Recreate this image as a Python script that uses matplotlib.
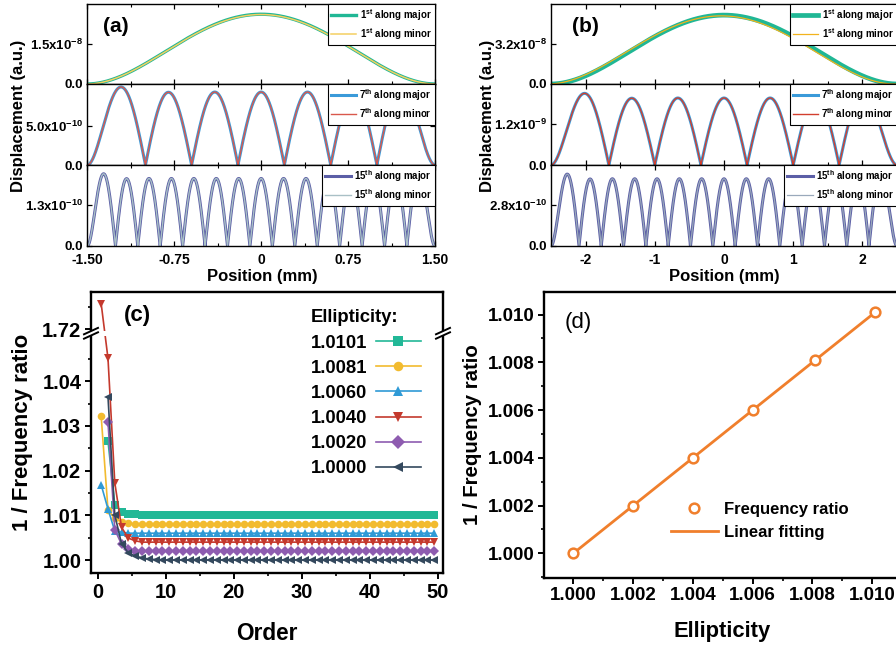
import numpy as np
import matplotlib
matplotlib.use("Agg")
import matplotlib.pyplot as plt
from matplotlib.ticker import FixedLocator
from matplotlib.patches import Rectangle

plt.rcParams['font.family'] = 'Liberation Sans'
plt.rcParams['font.weight'] = 'bold'
plt.rcParams['axes.labelweight'] = 'bold'
plt.rcParams['axes.unicode_minus'] = False
plt.rcParams['mathtext.fontset'] = 'custom'
plt.rcParams['mathtext.rm'] = 'Liberation Sans:bold'
plt.rcParams['mathtext.bf'] = 'Liberation Sans:bold'
plt.rcParams['mathtext.it'] = 'Liberation Sans:bold'
plt.rcParams['mathtext.default'] = 'bf'

# ---------------- (a), (b): mode shapes along major / minor axis ----------------
mode_names = ['1', '7', '15']
mode_sup = ['st', 'th', 'th']
# clamped-clamped roots (beta * L / 2) of the 1st, 7th and 15th modes
mode_roots = [2.3650, 11.7810, 24.3473]

half_span_a = 1.5  # mm
peaks_a_major = [2.59e-8, 9.92e-10, 2.30e-10]
peaks_a_minor = [2.58e-8, 9.92e-10, 2.30e-10]
shift_a_minor = [0.0, 0.0, 0.0]
yticks_a = [1.5e-8, 5.0e-10, 1.3e-10]
yticklabels_a = [r'1.5x10$^{-8}$', r'5.0x10$^{-10}$', r'1.3x10$^{-10}$']
ytop_a = [2.97e-8, 1.03e-9, 2.58e-10]
xticks_a = [-1.5, -0.75, 0, 0.75, 1.5]
xticklabels_a = ['-1.50', '-0.75', '0', '0.75', '1.50']

half_span_b = 2.5  # mm
peaks_b_major = [5.46e-8, 2.105e-9, 4.88e-10]
peaks_b_minor = [5.40e-8, 2.105e-9, 4.88e-10]
shift_b_minor = [-0.04, 0.0, 0.0]
yticks_b = [3.2e-8, 1.2e-9, 2.8e-10]
yticklabels_b = [r'3.2x10$^{-8}$', r'1.2x10$^{-9}$', r'2.8x10$^{-10}$']
ytop_b = [6.34e-8, 2.38e-9, 5.5e-10]
xticks_b = [-2, -1, 0, 1, 2]
xticklabels_b = ['-2', '-1', '0', '1', '2']

# ---------------- (c): 1 / frequency ratio vs. order ----------------
ellipticity_labels = ['1.0101', '1.0081', '1.0060', '1.0040', '1.0020', '1.0000']
order_pos = np.arange(50) + 0.5
series_start = [1, 0, 0, 0, 1, 1]
inv_ratio_10101 = [1.0266, 1.0123, 1.0108, 1.0104, 1.0102] + [1.0101] * 44
inv_ratio_10081 = [1.0321, 1.0112, 1.0093, 1.0085, 1.0082] + [1.0081] * 45
inv_ratio_10060 = [1.0168, 1.0114, 1.0065, 1.0062] + [1.0060] * 46
inv_ratio_10040 = [1.7257, 1.0451, 1.0173, 1.0073, 1.0049, 1.0043] + [1.0040] * 44
inv_ratio_10020 = [1.0309, 1.0068, 1.0035, 1.0024, 1.0021] + [1.0020] * 44
inv_ratio_10000 = [1.0365, 1.0101, 1.0036, 1.0016, 1.0009, 1.0005, 1.0002, 1.0001] + [1.0000] * 41
series_c = [inv_ratio_10101, inv_ratio_10081, inv_ratio_10060,
            inv_ratio_10040, inv_ratio_10020, inv_ratio_10000]
colors_c = ['#22b897', '#f2bb2f', '#2f9ad6', '#c4392d', '#8e5cb0', '#34495e']
markers_c = ['s', 'o', '^', 'v', 'D', '<']

# broken y axis: 1.0507 .. 1.7191 is cut out
y_cut_low, y_cut_high = 1.0507, 1.7191

# ---------------- (d): linear dependence on ellipticity ----------------
ellipticity = [1.0000, 1.0020, 1.0040, 1.0060, 1.0081, 1.0101]
inv_ratio_order1 = [1.0000, 1.0020, 1.0040, 1.0060, 1.0081, 1.0101]
orange = '#f07f2c'

W, H = 896, 650
fig = plt.figure(figsize=(W / 100, H / 100), dpi=100)


def add_axes_px(left, top, right, bottom):
    return fig.add_axes([left / W, 1 - bottom / H, (right - left) / W, (bottom - top) / H])


def mode_shape(x, half, root, peak, shift=0.0):
    u = (x - shift) / half * root
    phi = np.abs(np.cos(u) / np.cos(root) - np.cosh(u) / np.cosh(root))
    return peak * phi / phi.max()


row_edges = [4, 84, 165, 246]


def draw_modes(left, right, half, peaks_major, peaks_minor, shifts, yticks, ylabels,
               ytops, xticks, xlabels, minor_step, styles):
    x = np.linspace(-half, half, 2000)
    for i in range(3):
        ax = add_axes_px(left, row_edges[i], right, row_edges[i + 1])
        c_maj, lw_maj, c_min, lw_min = styles[i]
        lab = mode_names[i] + r'$^{' + mode_sup[i] + r'}$'
        ax.plot(x, mode_shape(x, half, mode_roots[i], peaks_major[i]),
                color=c_maj, lw=lw_maj, label=lab + ' along major')
        ax.plot(x, mode_shape(x, half, mode_roots[i], peaks_minor[i], shifts[i]),
                color=c_min, lw=lw_min, label=lab + ' along minor')
        ax.set_xlim(-half, half)
        ax.set_ylim(0, ytops[i])
        ax.set_yticks([0, yticks[i]], ['0.0', ylabels[i]])
        ax.set_xticks(xticks)
        ax.xaxis.set_minor_locator(FixedLocator(np.arange(-half, half + 1e-9, minor_step)))
        if i == 2:
            ax.set_xticklabels(xlabels)
        else:
            ax.set_xticklabels([])
        ax.tick_params(direction='in', top=True, right=True, length=3.5, width=0.9,
                       pad=3, labelsize=9.5)
        ax.tick_params(axis='x', which='minor', direction='in', top=True, length=2, width=0.8)
        ax.tick_params(axis='x', labelsize=10, pad=5)
        for s in ax.spines.values():
            s.set_linewidth(1.0)
        leg = ax.legend(loc='upper right', bbox_to_anchor=(1, 1), borderaxespad=0,
                        fontsize=7, fancybox=False, edgecolor='black', framealpha=1,
                        handlelength=2.6, handletextpad=0.35, labelspacing=0.32,
                        borderpad=0.3)
        leg.get_frame().set_linewidth(0.8)


styles_a = [('#20b795', 2.4, '#f4cf62', 1.1),
            ('#3a9ad9', 2.2, '#d9584c', 1.0),
            ('#5b5ea6', 2.2, '#a9c0c6', 1.0)]
styles_b = [('#20b795', 3.4, '#f2b31d', 0.9),
            ('#3a9ad9', 2.2, '#d23f2e', 1.0),
            ('#5b5ea6', 2.2, '#9aa9bb', 0.9)]

draw_modes(87.3, 435, half_span_a, peaks_a_major, peaks_a_minor, shift_a_minor,
           yticks_a, yticklabels_a, ytop_a, xticks_a, xticklabels_a, 0.375, styles_a)
draw_modes(551, 897, half_span_b, peaks_b_major, peaks_b_minor, shift_b_minor,
           yticks_b, yticklabels_b, ytop_b, xticks_b, xticklabels_b, 0.5, styles_b)

fig.text(19 / W, 1 - 116 / H, 'Displacement (a.u.)', rotation=90, ha='center', va='center', fontsize=12)
fig.text(487.5 / W, 1 - 116 / H, 'Displacement (a.u.)', rotation=90, ha='center', va='center', fontsize=12)
fig.text(262 / W, 1 - 276 / H, 'Position (mm)', ha='center', va='center', fontsize=12)
fig.text(724 / W, 1 - 276 / H, 'Position (mm)', ha='center', va='center', fontsize=12)
fig.text(116 / W, 1 - 26 / H, '(a)', ha='center', va='center', fontsize=15)
fig.text(585 / W, 1 - 27 / H, '(b)', ha='center', va='center', fontsize=15)

# ---------------- (c) ----------------
def fwd(y):
    y = np.asarray(y, dtype=float)
    return np.where(y <= y_cut_low, y,
                    np.where(y >= y_cut_high, y - (y_cut_high - y_cut_low), y_cut_low))


def inv(t):
    t = np.asarray(t, dtype=float)
    return np.where(t <= y_cut_low, t, t + (y_cut_high - y_cut_low))


axc = add_axes_px(91, 291.7, 443, 573)
axc.set_yscale('function', functions=(fwd, inv))
for vals, start, col, mk, lab in zip(series_c, series_start, colors_c, markers_c, ellipticity_labels):
    xs = order_pos[start:start + len(vals)]
    axc.plot(xs, vals, color=col, marker=mk, ms=5.5, mew=0, lw=1.2, label=lab)
axc.set_xlim(-1, 50.8)
axc.set_ylim(0.9971, 1.7284)
axc.set_yticks([1.00, 1.01, 1.02, 1.03, 1.04, 1.72], ['1.00', '1.01', '1.02', '1.03', '1.04', '1.72'])
axc.yaxis.set_minor_locator(FixedLocator([1.005, 1.015, 1.025, 1.035, 1.045, 1.725]))
axc.set_xticks([0, 10, 20, 30, 40, 50])
axc.xaxis.set_minor_locator(FixedLocator([5, 15, 25, 35, 45]))
axc.tick_params(direction='out', length=4, width=1.4, pad=3, labelsize=14.5, top=False, right=False)
axc.tick_params(which='minor', direction='out', length=2.5, width=1.2)
for s in axc.spines.values():
    s.set_linewidth(1.7)
# gap in the lines where the axis is cut
axc.axhspan(1.0500, 1.7196, color='white', zorder=2.2, lw=0)
# break marks on both vertical spines
yb = (fwd(y_cut_low) - fwd(0.9971)) / (fwd(1.7284) - fwd(0.9971))
dx, dy, gap = 7 / 352, 3.2 / 281, 2.2 / 281
for xs0 in (0, 1):
    axc.add_patch(Rectangle((xs0 - 0.01, yb - gap), 0.02, 2 * gap, transform=axc.transAxes,
                            facecolor='white', edgecolor='none', clip_on=False, zorder=5))
    for off in (-gap, gap):
        axc.plot([xs0 - dx, xs0 + dx], [yb + off - dy, yb + off + dy], color='black', lw=1.4,
                 transform=axc.transAxes, clip_on=False, zorder=6)
legc = axc.legend(loc='upper left', bbox_to_anchor=(311 / W, 1 - 309.5 / H),
                  bbox_transform=fig.transFigure, frameon=False, markerfirst=False,
                  fontsize=13.3, title='Ellipticity:', alignment='left',
                  title_fontproperties={'weight': 'bold', 'size': 13.3},
                  handlelength=2.45, handletextpad=0.45, labelspacing=0.44,
                  borderpad=0, borderaxespad=0, numpoints=1, markerscale=1.25)
fig.text(137 / W, 1 - 316 / H, '(c)', ha='center', va='center', fontsize=16)
fig.text(266.7 / W, 1 - 633 / H, 'Order', ha='center', va='center', fontsize=16.3)
fig.text(22.5 / W, 1 - 432.5 / H, '1 / Frequency ratio', rotation=90, ha='center', va='center', fontsize=16)

# ---------------- (d) ----------------
axd = add_axes_px(544.3, 291.7, 901, 577.7)
fit = np.polyfit(ellipticity, inv_ratio_order1, 1)
x_fit = np.array([ellipticity[0], ellipticity[-1]])
axd.plot(x_fit, np.polyval(fit, x_fit), color=orange, lw=2.0, label='Linear fitting', zorder=2)
axd.plot(ellipticity, inv_ratio_order1, ls='none', marker='o', ms=7, mew=1.8,
         mec=orange, mfc='white', label='Frequency ratio', zorder=3)
axd.set_xlim(0.999028, 1.010963)
axd.set_ylim(0.99898, 1.01096)
ticks_d = [1.000, 1.002, 1.004, 1.006, 1.008, 1.010]
axd.set_xticks(ticks_d, ['%.3f' % t for t in ticks_d])
axd.set_yticks(ticks_d, ['%.3f' % t for t in ticks_d])
minor_d = [0.999, 1.001, 1.003, 1.005, 1.007, 1.009, 1.011]
axd.xaxis.set_minor_locator(FixedLocator(minor_d))
axd.yaxis.set_minor_locator(FixedLocator(minor_d))
axd.tick_params(direction='out', length=4, width=1.4, pad=3, labelsize=13.5)
axd.tick_params(which='minor', direction='out', length=2.5, width=1.2)
for s in axd.spines.values():
    s.set_linewidth(1.7)
h, l = axd.get_legend_handles_labels()
axd.legend(h[::-1], l[::-1], loc='upper left', bbox_to_anchor=(671 / W, 1 - 502 / H),
           bbox_transform=fig.transFigure, frameon=False, fontsize=12,
           handlelength=2.8, handletextpad=0.35, labelspacing=0.48,
           borderpad=0, borderaxespad=0, numpoints=1)
fig.text(578 / W, 1 - 322.5 / H, '(d)', ha='center', va='center', fontsize=16, fontweight='normal')
fig.text(721.7 / W, 1 - 631.7 / H, 'Ellipticity', ha='center', va='center', fontsize=15.8)
fig.text(472.5 / W, 1 - 435 / H, '1 / Frequency ratio', rotation=90, ha='center', va='center', fontsize=14.7)

fig.savefig('out.png', dpi=100)
